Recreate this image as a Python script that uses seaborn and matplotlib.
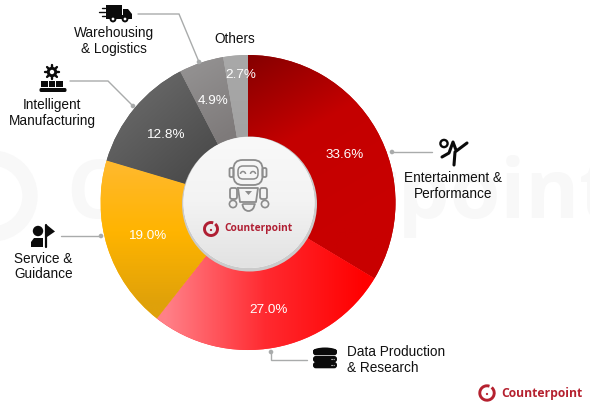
import numpy as np
import matplotlib
matplotlib.use("Agg")
import matplotlib.pyplot as plt
import seaborn as sns
from matplotlib.patches import Circle, FancyBboxPatch, Rectangle, Polygon, Arc, Ellipse

sectors = ["Entertainment & Performance", "Data Production & Research", "Service & Guidance",
           "Intelligent Manufacturing", "Warehousing & Logistics", "Others"]
shares = [33.6, 27.0, 19.0, 12.8, 4.9, 2.7]
base_colors = ["#b00000", "#ff3038", "#ffb000", "#555555", "#888484", "#a6a6a6"]
brand = "Counterpoint"

sns.set_theme(style="white")
plt.rcParams["font.family"] = ["Liberation Sans", "DejaVu Sans"]

fig = plt.figure(figsize=(5.9, 4.05), dpi=100, facecolor="white")
ax = fig.add_axes([0, 0, 1, 1])
CX, CY, R = 248, 202.5, 147.5

# faint watermark
ax.text(66, 196, brand, fontsize=59, fontweight="bold", family="Open Sans", color="#f8f8f8",
        ha="left", va="center", zorder=0, clip_on=True)
ax.add_patch(Circle((-8, 196), 38, fill=False, ec="#f8f8f8", lw=11, zorder=0))

wedges, _ = ax.pie(shares, startangle=-90, counterclock=True, center=(CX, CY), radius=R,
                   frame=True, colors=base_colors, wedgeprops=dict(linewidth=0, edgecolor="none"))

# gradient: (start point, end point, colours)
grads = [((250, 55), (345, 215), ["#860000", "#c40000", "#c80000"]),
         ((165, 300), (365, 300), ["#ff8088", "#ff2a30", "#ff0000"]),
         ((140, 160), (140, 305), ["#ffb92f", "#ffb400", "#dfa10a"]),
         ((130, 90), (200, 170), ["#686868", "#4b4b4b"]),
         ((190, 70), (230, 135), ["#929090", "#7e7a7a"]),
         ((230, 55), (230, 135), ["#a9a9a9", "#a2a2a2"])]
xs = np.linspace(CX - R, CX + R, 300)
ys = np.linspace(CY - R, CY + R, 300)
X, Y = np.meshgrid(xs, ys)
for w, (p0, p1, cols) in zip(wedges, grads):
    d = np.array(p1, float) - np.array(p0, float)
    t = ((X - p0[0]) * d[0] + (Y - p0[1]) * d[1]) / (d @ d)
    cmap = sns.blend_palette(cols, as_cmap=True)
    im = ax.imshow(np.clip(t, 0, 1), cmap=cmap, vmin=0, vmax=1, origin="upper",
                   extent=(CX - R, CX + R, CY + R, CY - R), zorder=1.5, interpolation="bilinear")
    im.set_clip_path(w)

ax.set_xlim(0, 590)
ax.set_ylim(405, 0)
ax.set_aspect("equal")
ax.axis("off")
ax.set_position([0, 0, 1, 1])

# centre disc
ax.add_patch(Circle((249.5, 204), 67.5, fc="#cbcbcb", ec="none", zorder=2))
disc = Circle((249, 202.5), 65.5, fc="white", ec="none", zorder=2.1)
ax.add_patch(disc)
gy = np.linspace(0, 1, 100)[:, None]
imd = ax.imshow(gy, cmap=sns.blend_palette(["#f9f9f9", "#f3f3f3", "#e2e2e2"], as_cmap=True),
                extent=(183, 315, 268, 137), origin="upper", zorder=2.2, aspect="auto")
imd.set_clip_path(disc)
ax.set_xlim(0, 590); ax.set_ylim(405, 0); ax.set_aspect("equal")

# percentage labels
pct_pos = [(345, 155), (269, 310), (147, 236), (165, 135), (213, 101), (241, 75)]
for v, (x, y) in zip(shares, pct_pos):
    ax.text(x, y, f"{v:.1f}%", color="white", fontsize=9.7, ha="center", va="center", zorder=5)

# category labels
for txt, x, y, ha in [("Warehousing\n& Logistics", 114, 41, "center"), ("Others", 235, 39, "center"),
                      ("Intelligent\nManufacturing", 52, 113, "center"),
                      ("Entertainment &\nPerformance", 453, 186, "center"),
                      ("Service &\nGuidance", 14, 266.5, "left"),
                      ("Data Production\n& Research", 347, 360, "left")]:
    ax.text(x, y, txt, color="#111111", fontsize=9.8, ha=ha, va="center", multialignment=ha,
            linespacing=1.14, zorder=5)

# leaders
GREY = "#a9abab"
for pts in [[(138, 14), (179, 14), (199, 62)], [(70, 81), (108, 81), (133, 106)],
            [(392, 152), (432, 152)], [(61, 236), (101, 236)], [(271, 352), (271, 360), (307, 360)]]:
    ax.plot(*zip(*pts), color=GREY, lw=1.0, zorder=4, solid_joinstyle="miter")
for pt in [(199, 62), (133, 106), (392, 152), (101, 236), (271, 352)]:
    ax.add_patch(Circle(pt, 2.3, fc=GREY, ec="none", zorder=4))

K = "#0b0b0b"
def rect(x0, y0, x1, y1, c=K, z=5):
    ax.add_patch(Rectangle((x0, y0), x1 - x0, y1 - y0, fc=c, ec="none", zorder=z))
def disk(x, y, r, c=K, z=5, **kw):
    ax.add_patch(Circle((x, y), r, fc=c, ec="none", zorder=z, **kw))
def poly(pts, c=K, z=5):
    ax.add_patch(Polygon(pts, closed=True, fc=c, ec="none", zorder=z))
def line(pts, c=K, lw=2, z=5):
    ax.plot(*zip(*pts), color=c, lw=lw, zorder=z, solid_capstyle="round", solid_joinstyle="round")

# truck
rect(106, 5, 122, 18)
poly([(123, 9), (128, 9), (132, 14), (132, 19), (123, 19)])
rect(106, 15, 132, 19)
disk(113, 19, 3.4); disk(113, 19, 1.4, "white", 5.1)
disk(125, 19, 3.4); disk(125, 19, 1.4, "white", 5.1)
for y0, x0, x1 in [(8, 102, 105), (12, 99, 105), (16, 102, 105)]:
    line([(x0, y0), (x1, y0)], lw=1)

# gear + conveyor
disk(52, 72, 5.2); disk(52, 72, 2.2, "white", 5.1)
for a in np.arange(0, 360, 45):
    ca, sa = np.cos(np.radians(a)), np.sin(np.radians(a))
    line([(52 + 4 * ca, 72 + 4 * sa), (52 + 7 * ca, 72 + 7 * sa)], lw=1.7)
for x0 in (41, 48.5, 56):
    rect(x0, 81, x0 + 6.5, 87)
ax.add_patch(FancyBboxPatch((39.5, 88), 27, 4, boxstyle="round,pad=0,rounding_size=1.6", fc=K, ec="none", zorder=5))

# person + flag
disk(38, 231, 5.2)
poly([(31, 247), (31, 242), (34, 238), (43, 238), (43, 247)])
line([(46, 225), (46, 247)], lw=1.6)
poly([(47, 225), (55, 231.5), (47, 237)])

# kicking figure
ax.add_patch(Circle((444, 143.5), 3.6, fc="none", ec=K, lw=1.7, zorder=5))
line([(467, 143), (455, 152), (454, 165)], lw=2.2)
line([(442, 157), (449, 153), (453, 142), (456, 150)], lw=2.2)

# database
for y0 in (350, 357, 363):
    ax.add_patch(FancyBboxPatch((313, y0 - 1), 24, 6.3, boxstyle="round,pad=0,rounding_size=2.8", fc=K, ec="none", zorder=5))
ax.add_patch(Ellipse((325, 351), 24, 7, fc=K, ec="none", zorder=5))
for y0 in (358.5, 365):
    ax.plot([331, 334], [y0, y0], color="white", lw=0.8, ls=(0, (1, 1)), zorder=6)

# robot
G = "#8c8c8c"
def rr(x, y, w, h, rad, lw=1.3, fc="none"):
    ax.add_patch(FancyBboxPatch((x, y), w, h, boxstyle=f"round,pad=0,rounding_size={rad}",
                                fc=fc, ec=G, lw=lw, zorder=6))
rr(233.5, 160, 29, 25, 9)
rr(238, 166, 20, 13, 5, lw=1.1)
rr(229.5, 168, 4, 9, 1.5); rr(262.5, 168, 4, 9, 1.5)
ax.add_patch(Arc((243, 174), 5, 5, theta1=180, theta2=360, ec=G, lw=1.1, zorder=6))
ax.add_patch(Arc((253, 174), 5, 5, theta1=180, theta2=360, ec=G, lw=1.1, zorder=6))
line([(238, 188), (258, 188), (256, 202), (240, 202), (238, 188)], c=G, lw=1.3, z=6)
poly([(245, 191), (252, 191), (248.5, 195)], c=G, z=6)
rr(230, 188, 7, 11, 2); rr(260, 188, 7, 11, 2)
ax.add_patch(Circle((233, 204), 3.6, fc="none", ec=G, lw=1.2, zorder=6))
ax.add_patch(Circle((265, 204), 3.6, fc="none", ec=G, lw=1.2, zorder=6))
ax.add_patch(Arc((248.5, 204), 12, 14, theta1=0, theta2=180, ec=G, lw=1.3, zorder=6))
line([(242.5, 204), (254.5, 204)], c=G, lw=1.2, z=6)

# brand marks
def logo(cx, cy, r, tx, size, col):
    ax.add_patch(Arc((cx, cy), 2 * r, 2 * r, theta1=-50, theta2=290, ec=col, lw=2.1, zorder=6))
    disk(cx, cy + 1, 1.1, col, 6)
    ax.text(tx, cy, brand, color=col, fontsize=size, fontweight="bold", family="Open Sans",
            ha="left", va="center", zorder=6)
logo(211, 229, 6.5, 224, 7.3, "#b01f33")
logo(487, 393, 7.2, 501, 8.7, "#b5212f")

fig.savefig("out.png", dpi=100)
